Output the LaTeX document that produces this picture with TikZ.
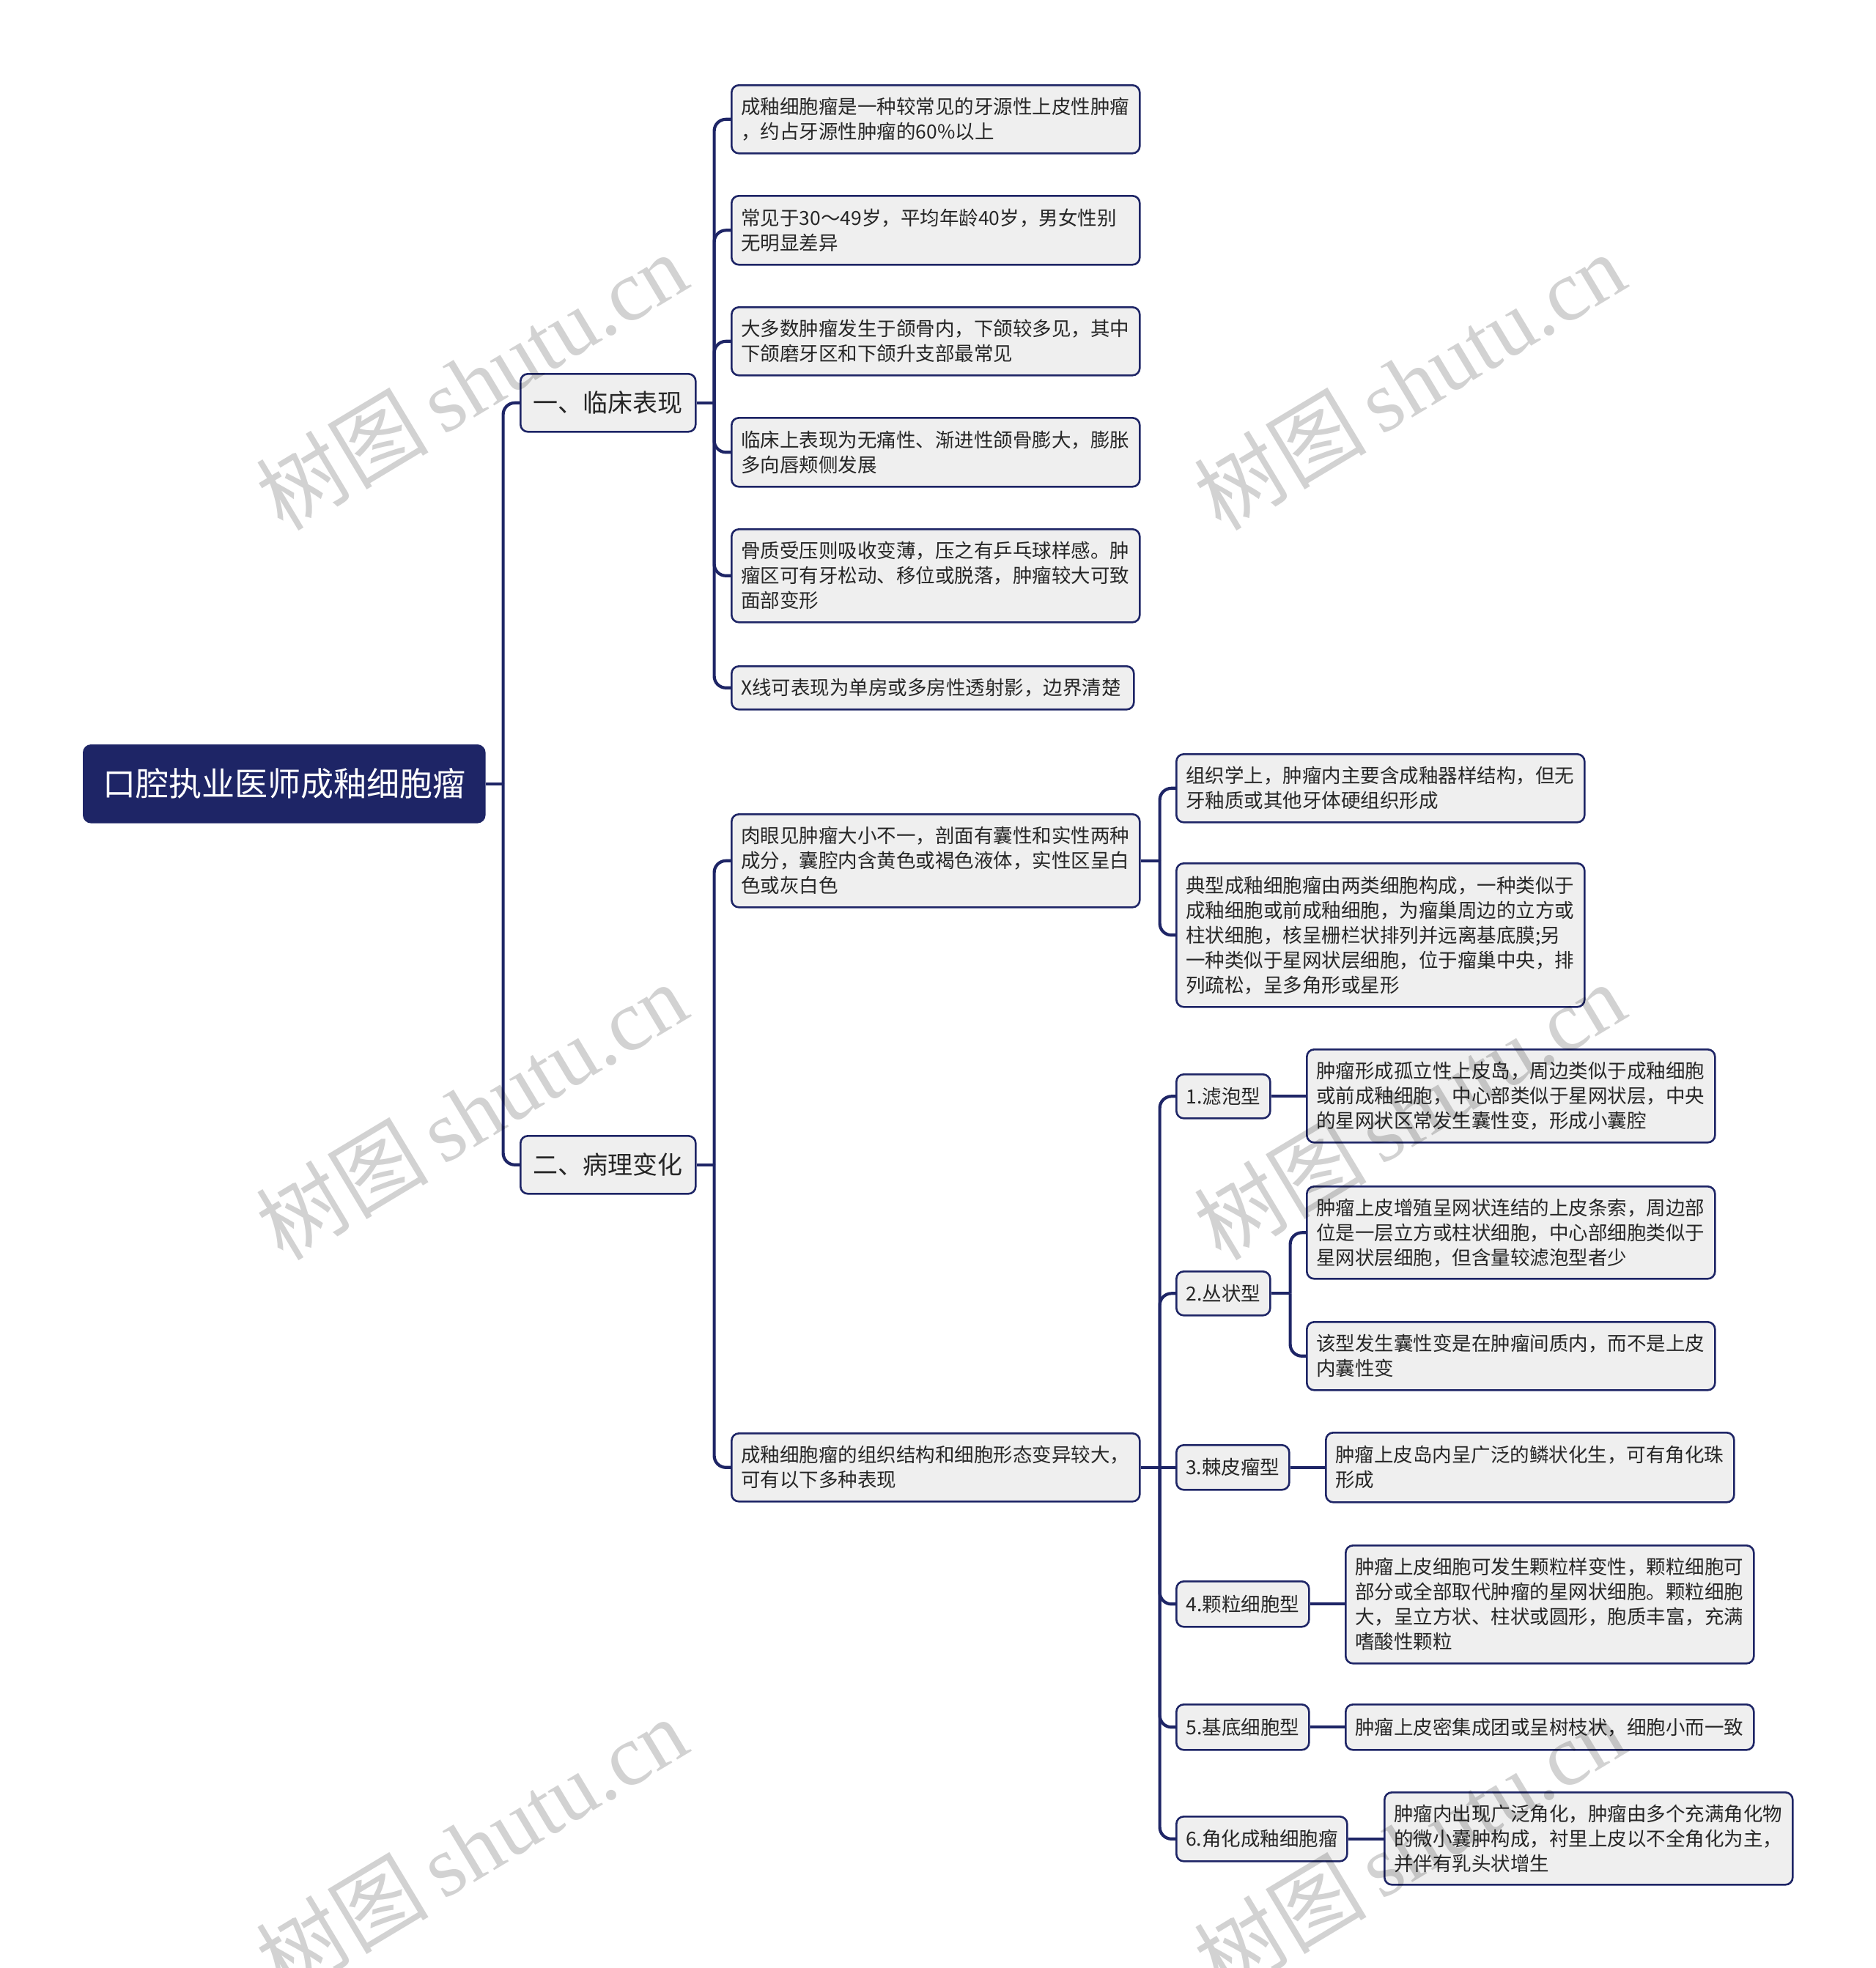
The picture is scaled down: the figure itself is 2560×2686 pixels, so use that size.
\documentclass[tikz,border=0pt]{standalone}
\usepackage{fontspec}
\setmainfont{Noto Sans CJK SC}
\newfontfamily\wmserif{Liberation Serif}
\usetikzlibrary{calc}
\definecolor{navy}{HTML}{1E2566}
\definecolor{leaffill}{HTML}{EFEFEF}
\definecolor{txt}{HTML}{262626}
\definecolor{wmgray}{HTML}{D2D2D2}
\tikzset{
  box/.style={draw=navy, line width=2.6pt, fill=leaffill, rounded corners=10pt,
    anchor=north west, text=txt, inner sep=0pt},
  leaf/.style={box, font=\fontsize{26.5}{34}\selectfont, align=left,
    text width=531pt, inner xsep=13pt},
  typebox/.style={box, font=\fontsize{26.5}{34}\selectfont, align=center},
  lvlone/.style={box, font=\fontsize{34}{40}\selectfont, align=center,
    minimum width=239pt, minimum height=79pt},
  rootbox/.style={box, fill=navy, text=white, font=\fontsize{45}{52}\selectfont,
    minimum width=547pt, minimum height=105pt},
  conn/.style={draw=navy, line width=4.2pt, rounded corners=16pt},
  wmark/.style={text=wmgray, blend mode=multiply, rotate=31, font=\fontsize{118}{130}\selectfont, inner sep=0pt}
}
\begin{document}
\begin{tikzpicture}[x=1pt,y=-1pt]
\useasboundingbox (0,0) rectangle (2560,2686);
\fill[white] (0,0) rectangle (2560,2686);

% root and level one
\node[rootbox] (root) at (113,1016) {口腔执业医师成釉细胞瘤};
\node[lvlone] (clin) at (709,509) {一、临床表现};
\node[lvlone] (path) at (709,1549) {二、病理变化};

% clinical leaves
\node[leaf, minimum height=93pt] (c1) at (997,115) {成釉细胞瘤是一种较常见的牙源性上皮性肿瘤\\，约占牙源性肿瘤的60\%以上};
\node[leaf, minimum height=94pt] (c2) at (997,266) {常见于30～49岁，平均年龄40岁，男女性别\\无明显差异};
\node[leaf, minimum height=93pt] (c3) at (997,418) {大多数肿瘤发生于颌骨内，下颌较多见，其中\\下颌磨牙区和下颌升支部最常见};
\node[leaf, minimum height=94pt] (c4) at (997,569) {临床上表现为无痛性、渐进性颌骨膨大，膨胀\\多向唇颊侧发展};
\node[leaf, minimum height=127pt] (c5) at (997,721) {骨质受压则吸收变薄，压之有乒乓球样感。肿\\瘤区可有牙松动、移位或脱落，肿瘤较大可致\\面部变形};
\node[leaf, text width=523pt, minimum height=59pt] (c6) at (997,908) {X线可表现为单房或多房性透射影，边界清楚};

% pathology
\node[leaf, minimum height=127pt] (pa) at (997,1110) {肉眼见肿瘤大小不一，剖面有囊性和实性两种\\成分，囊腔内含黄色或褐色液体，实性区呈白\\色或灰白色};
\node[leaf, minimum height=93pt] (pb) at (997,1955) {成釉细胞瘤的组织结构和细胞形态变异较大，\\可有以下多种表现};

\node[leaf, minimum height=93pt] (a1) at (1604,1028) {组织学上，肿瘤内主要含成釉器样结构，但无\\牙釉质或其他牙体硬组织形成};
\node[leaf, minimum height=196pt] (a2) at (1604,1177) {典型成釉细胞瘤由两类细胞构成，一种类似于\\成釉细胞或前成釉细胞，为瘤巢周边的立方或\\柱状细胞，核呈栅栏状排列并远离基底膜;另\\一种类似于星网状层细胞，位于瘤巢中央，排\\列疏松，呈多角形或星形};

% types
\node[typebox, minimum width=128pt, minimum height=60pt] (t1) at (1604,1465) {1.滤泡型};
\node[typebox, minimum width=128pt, minimum height=60pt] (t2) at (1604,1734) {2.丛状型};
\node[typebox, minimum width=154pt, minimum height=61pt] (t3) at (1604,1971) {3.棘皮瘤型};
\node[typebox, minimum width=181pt, minimum height=62pt] (t4) at (1604,2157) {4.颗粒细胞型};
\node[typebox, minimum width=181pt, minimum height=62pt] (t5) at (1604,2325) {5.基底细胞型};
\node[typebox, minimum width=233pt, minimum height=61pt] (t6) at (1604,2478) {6.角化成釉细胞瘤};

% type leaves
\node[leaf, minimum height=127pt] (f1) at (1782,1431) {肿瘤形成孤立性上皮岛，周边类似于成釉细胞\\或前成釉细胞，中心部类似于星网状层，中央\\的星网状区常发生囊性变，形成小囊腔};
\node[leaf, minimum height=126pt] (p1) at (1782,1618) {肿瘤上皮增殖呈网状连结的上皮条索，周边部\\位是一层立方或柱状细胞，中心部细胞类似于\\星网状层细胞，但含量较滤泡型者少};
\node[leaf, minimum height=93pt] (p2) at (1782,1803) {该型发生囊性变是在肿瘤间质内，而不是上皮\\内囊性变};
\node[leaf, minimum height=95pt] (s1) at (1808,1954) {肿瘤上皮岛内呈广泛的鳞状化生，可有角化珠\\形成};
\node[leaf, minimum height=161pt] (g1) at (1835,2108) {肿瘤上皮细胞可发生颗粒样变性，颗粒细胞可\\部分或全部取代肿瘤的星网状细胞。颗粒细胞\\大，呈立方状、柱状或圆形，胞质丰富，充满\\嗜酸性颗粒};
\node[leaf, minimum height=62pt] (b1) at (1835,2325) {肿瘤上皮密集成团或呈树枝状，细胞小而一致};
\node[leaf, minimum height=126pt] (k1) at (1888,2445) {肿瘤内出现广泛角化，肿瘤由多个充满角化物\\的微小囊肿构成，衬里上皮以不全角化为主，\\并伴有乳头状增生};

% connectors
\coordinate (jr) at ($(root.east)+(24,0)$);
\draw[conn] (root.east) -- (jr);
\draw[conn] (jr) |- (clin.west);
\draw[conn] (jr) |- (path.west);

\coordinate (jc) at ($(clin.east)+(24,0)$);
\draw[conn] (clin.east) -- (jc);
\foreach \n in {c1,c2,c3,c4,c5,c6} \draw[conn] (jc) |- (\n.west);

\coordinate (jp) at ($(path.east)+(24,0)$);
\draw[conn] (path.east) -- (jp);
\foreach \n in {pa,pb} \draw[conn] (jp) |- (\n.west);

\coordinate (ja) at ($(pa.east)+(26,0)$);
\draw[conn] (pa.east) -- (ja);
\foreach \n in {a1,a2} \draw[conn] (ja) |- (\n.west);

\coordinate (jb) at ($(pb.east)+(26,0)$);
\draw[conn] (pb.east) -- (t3.west);
\foreach \n in {t1,t2,t4,t5,t6} \draw[conn] (jb) |- (\n.west);

\coordinate (j2) at ($(t2.east)+(26,0)$);
\draw[conn] (t2.east) -- (j2);
\foreach \n in {p1,p2} \draw[conn] (j2) |- (\n.west);

\draw[conn] (t1.east) -- (t1.east -| f1.west);
\draw[conn] (t3.east) -- (t3.east -| s1.west);
\draw[conn] (t4.east) -- (t4.east -| g1.west);
\draw[conn] (t5.east) -- (t5.east -| b1.west);
\draw[conn] (t6.east) -- (t6.east -| k1.west);

% watermarks
\foreach \wx/\wy [count=\i] in {643/520, 1923/520, 643/1516, 1923/1516, 643/2519, 1923/2519}
  \node[wmark] (wm\i) at (\wx,\wy) {树图\,{\wmserif shutu.cn}};
\end{tikzpicture}
\end{document}
